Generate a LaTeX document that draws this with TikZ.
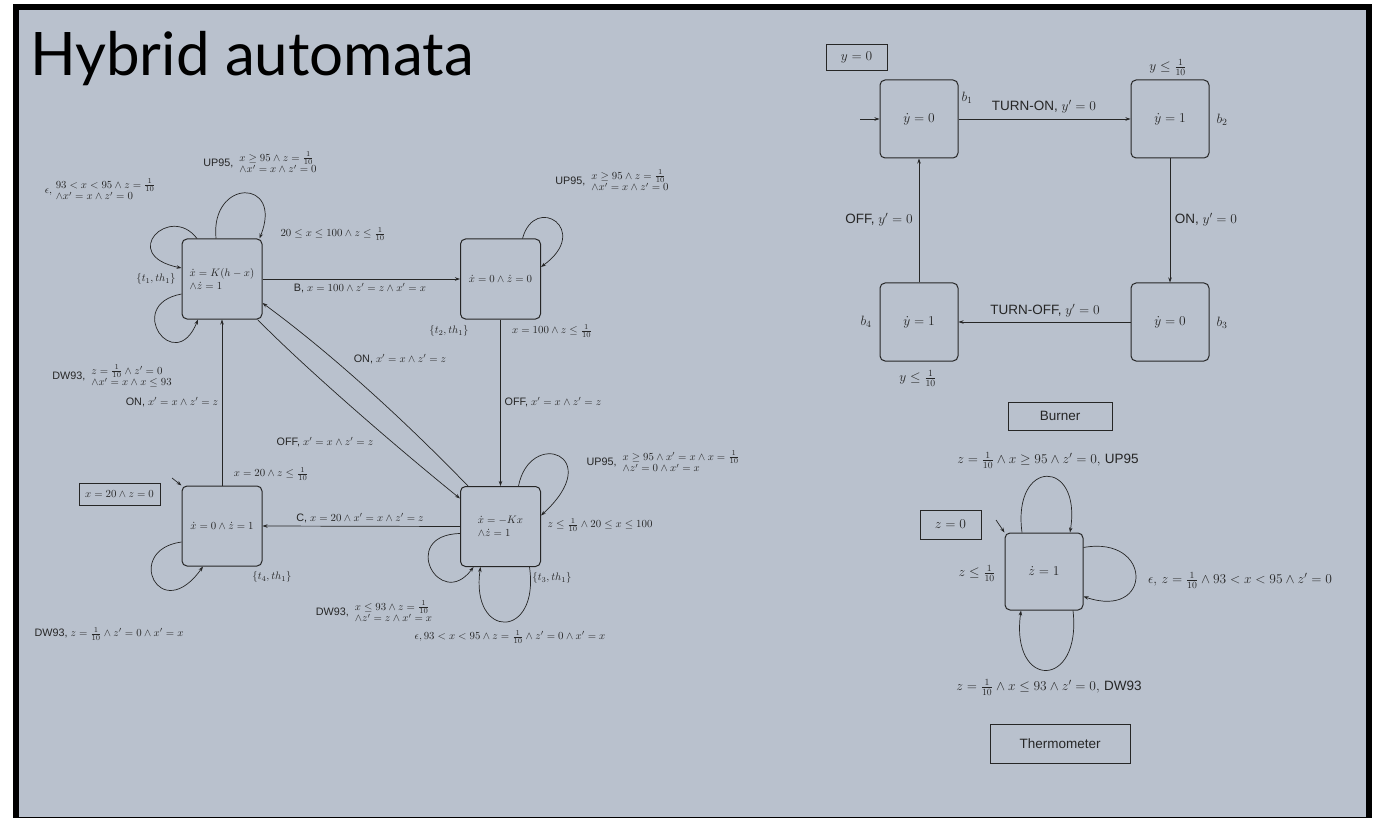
\RequirePackage{fix-cm}
\documentclass[tikz,border=0pt]{standalone}
\usepackage{fontspec}
\newfontfamily\hv{Liberation Sans}
\newfontfamily\ttlfont{Lato}
\usetikzlibrary{arrows.meta}
\definecolor{slate}{RGB}{185,193,205}
\definecolor{ink}{RGB}{38,38,38}
\newcommand\twol[2]{\ensuremath{\renewcommand\arraystretch{0.8}\begin{array}[c]{@{}l@{}}#1\\#2\end{array}}}
\newcommand\oneten{\frac{1}{10}}
\begin{document}
\begin{tikzpicture}[x=1pt,y=-1pt,
  every node/.style={text=ink,font=\fontsize{10.8}{13}\selectfont,inner sep=1pt},
  loc/.style={draw=ink,line width=1pt,rounded corners=5pt,minimum width=80pt,minimum height=80pt,inner sep=0pt,align=left},
  tr/.style={draw=ink,line width=0.7pt,-{Stealth[length=5pt,width=3.5pt]}},
  box/.style={draw=ink,line width=0.9pt,inner sep=0pt},
  big/.style={font=\fontsize{13.5}{16}\selectfont},
  bigsf/.style={font=\hv\fontsize{13.5}{16}\selectfont}]
\useasboundingbox (0,0) rectangle (1381,818);
\fill[white] (0,0) rectangle (1381,818);
\fill[black] (13,4) rectangle (1372,818);
\fill[slate] (19,10) rectangle (1366,816.5);

\node[anchor=base west,font=\ttlfont\fontsize{60}{60}\selectfont,text=black,inner sep=0pt] (title) at (30,76) {Hybrid automata};

% ---------------- left automaton
\node[loc] (A) at (222,279) {$\dot x=K(h-x)$\\$\wedge\dot z=1$};
\node[loc] (B) at (500.5,279) {$\dot x=0\wedge\dot z=0$};
\node[loc] (C) at (500.5,526.5) {$\dot x=-Kx$\\$\wedge\dot z=1$};
\node[loc] (D) at (222,526) {$\dot x=0\wedge\dot z=1$};

\draw[tr] (A.east) -- (B.west);
\draw[tr] (B.south) -- (C.north);
\draw[tr] (C.west) -- (D.east);
\draw[tr] (D.north) -- (A.south);
\draw[tr] ([xshift=8pt]C.north west) .. controls (405,421) and (332,354) .. ([yshift=-24pt]A.east);
\draw[tr] ([xshift=-5pt]A.south east) .. controls (307,370) and (400,450) .. ([yshift=28pt]C.west);

% loops on A
\draw[tr] ([xshift=-6pt]A.north) .. controls (210,178) and (284,178) .. ([xshift=-3pt]A.north east);
\draw[tr] ([xshift=-25pt]A.north) .. controls (170,203) and (118,255) .. ([yshift=11pt]A.west);
\draw[tr] ([yshift=-15pt]A.west) .. controls (123,305) and (175,377) .. ([xshift=-24pt]A.south);
% loop on B
\draw[tr] ([xshift=22pt]B.north) .. controls (535,193) and (592,230) .. ([yshift=12pt]B.east);
% loops on C
\draw[tr] ([xshift=18pt]C.north) .. controls (530,428) and (607,455) .. ([yshift=11pt]C.east);
\draw[tr] ([yshift=-7pt]C.west) .. controls (398,535) and (440,612) .. ([xshift=-27pt]C.south);
\draw[tr] ([xshift=29pt]C.south) .. controls (540,640) and (470,640) .. ([xshift=-20pt]C.south);
% loop on D
\draw[tr] ([yshift=-16pt]D.west) .. controls (123,550) and (160,627) .. ([xshift=-19pt]D.south);
% initial of D
\coordinate (d0) at (172,478);
\draw[tr] (d0) -- (D.north west);
\node[box,minimum width=81pt,minimum height=22pt] (dinit) at (119.5,494) {$x=20\wedge z=0$};

% labels left
\node (lA1) at (156,279) {$\{t_1,th_1\}$};
\node (lA2) at (260,164) {\hv UP95,\ \ \twol{x\geq 95\wedge z=\oneten}{\wedge x'=x\wedge z'=0}};
\node (lA3) at (100,191) {$\epsilon$,\ \twol{93<x<95\wedge z=\oneten}{\wedge x'=x\wedge z'=0}};
\node (lA4) at (333,234) {$20\leq x\leq 100\wedge z\leq\oneten$};
\node (lA5) at (112,377) {\hv DW93,\ \ \twol{z=\oneten\wedge z'=0}{\wedge x'=x\wedge x\leq 93}};
\node (lAB) at (360,288) {\hv B, $x=100\wedge z'=z\wedge x'=x$};
\node (lB1) at (612,182) {\hv UP95,\ \ \twol{x\geq 95\wedge z=\oneten}{\wedge x'=x\wedge z'=0}};
\node (lB2) at (552,331) {$x=100\wedge z\leq\oneten$};
\node (lB3) at (449,331) {$\{t_2,th_1\}$};
\node (lBC) at (553,402) {\hv OFF, $x'=x\wedge z'=z$};
\node (lCA) at (400,359) {\hv ON, $x'=x\wedge z'=z$};
\node (lAC) at (325,442) {\hv OFF, $x'=x\wedge z'=z$};
\node (lDA) at (172,402) {\hv ON, $x'=x\wedge z'=z$};
\node (lD1) at (271,474) {$x=20\wedge z\leq\oneten$};
\node (lD2) at (272,577) {$\{t_4,th_1\}$};
\node (lD3) at (109,634) {\hv DW93, $z=\oneten\wedge z'=0\wedge x'=x$};
\node (lCD) at (360,518) {\hv C, $x=20\wedge x'=x\wedge z'=z$};
\node (lC1) at (663,463) {\hv UP95,\ \ \twol{x\geq 95\wedge x'=x\wedge x=\oneten}{\wedge z'=0\wedge x'=x}};
\node (lC2) at (600,525) {$z\leq\oneten\wedge 20\leq x\leq 100$};
\node (lC3) at (552,578) {$\{t_3,th_1\}$};
\node (lC4) at (374,613) {\hv DW93,\ \ \twol{x\leq 93\wedge z=\oneten}{\wedge z'=z\wedge x'=x}};
\node (lC5) at (510,637) {$\epsilon,93<x<95\wedge z=\oneten\wedge z'=0\wedge x'=x$};

% ---------------- burner
\begin{scope}[every node/.append style={big}]
\node[loc,minimum width=78pt,minimum height=78pt] (b1) at (919,119) {$\dot y=0$};
\node[loc,minimum width=78pt,minimum height=78pt] (b2) at (1170,119) {$\dot y=1$};
\node[loc,minimum width=78pt,minimum height=78pt] (b3) at (1170,322) {$\dot y=0$};
\node[loc,minimum width=78pt,minimum height=78pt] (b4) at (919,322) {$\dot y=1$};
\coordinate (bi) at (860,119);
\draw[tr] (bi) -- (b1.west);
\draw[tr] (b1.east) -- (b2.west);
\draw[tr] (b2.south) -- (b3.north);
\draw[tr] (b3.west) -- (b4.east);
\draw[tr] (b4.north) -- (b1.south);
\node[box,minimum width=61pt,minimum height=26pt] (y0) at (856.5,57) {$y=0$};
\node (nb1) at (967,98) {$b_1$};
\node (nb2) at (1222,120) {$b_2$};
\node (nb3) at (1222,323) {$b_3$};
\node (nb4) at (866,322) {$b_4$};
\node (ib2) at (1168,67) {$y\leq\oneten$};
\node (ib4) at (918,378) {$y\leq\oneten$};
\node (l12) at (1044,107) {\hv TURN-ON, $y'=0$};
\node (l23) at (1206,220) {\hv ON, $y'=0$};
\node (l34) at (1045,311) {\hv TURN-OFF, $y'=0$};
\node (l41) at (879,220) {\hv OFF, $y'=0$};
\node[box,minimum width=104pt,minimum height=28pt,bigsf] (burner) at (1060,416) {Burner};

% ---------------- thermometer
\node[loc,minimum width=78pt,minimum height=77pt] (T) at (1044,571.5) {$\dot z=1$};
\draw[tr] ([xshift=-22pt]T.north) .. controls (1012,458) and (1082,458) .. ([xshift=26pt]T.north);
\draw[tr] ([yshift=24pt]T.east) .. controls (1153,535) and (1153,620) .. ([yshift=-25pt]T.east);
\draw[tr] ([xshift=29pt]T.south) .. controls (1082,690) and (1010,690) .. ([xshift=-23pt]T.south);
\coordinate (ti) at (996,520);
\draw[tr] (ti) -- (T.north west);
\node[box,minimum width=61pt,minimum height=29pt] (z0) at (950.5,524.5) {$z=0$};
\node (lT1) at (1048,460) {$z=\oneten\wedge x\geq 95\wedge z'=0$, {\hv UP95}};
\node (lT2) at (1240,580) {$\epsilon$, $z=\oneten\wedge 93<x<95\wedge z'=0$};
\node (lT3) at (1049,687) {$z=\oneten\wedge x\leq 93\wedge z'=0$, {\hv DW93}};
\node (lT4) at (977,573) {$z\leq\oneten$};
\node[box,minimum width=140pt,minimum height=39pt,bigsf] (thermo) at (1060,743.5) {Thermometer};
\end{scope}
\end{tikzpicture}
\end{document}
